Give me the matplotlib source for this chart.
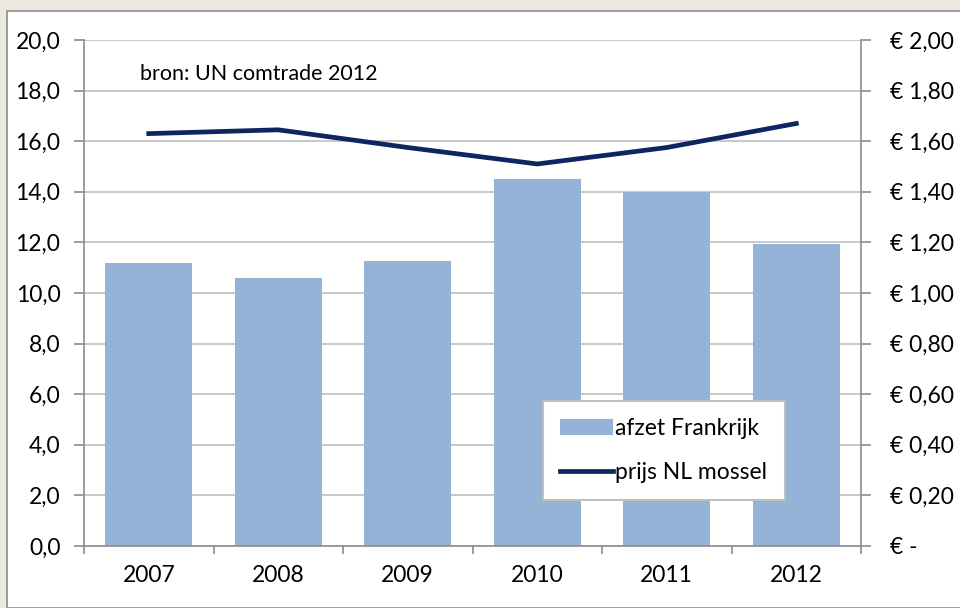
import matplotlib
matplotlib.use('Agg')
import matplotlib.pyplot as plt
from matplotlib.patches import Rectangle
import numpy as np

plt.rcParams['font.family'] = ['Lato', 'DejaVu Sans']

jaren = ['2007', '2008', '2009', '2010', '2011', '2012']
afzet = [11.2, 10.6, 11.25, 14.5, 14.0, 11.95]
prijs = [1.63, 1.645, 1.575, 1.51, 1.575, 1.67]
links_ticks = [0, 2, 4, 6, 8, 10, 12, 14, 16, 18, 20]
rechts_ticks = [0, 0.2, 0.4, 0.6, 0.8, 1.0, 1.2, 1.4, 1.6, 1.8, 2.0]

fig = plt.figure(figsize=(9.6, 6.08), dpi=100)
fig.patch.set_facecolor('#ECE9E0')
# white chart panel, behind the axes
fig.patches.append(Rectangle((7/960, 0), 1, 1 - 11/608, transform=fig.transFigure,
                             facecolor='white', edgecolor='#8C8C8C', linewidth=1.2,
                             zorder=-5))

ax = fig.add_axes([84/960, 62/608, 777/960, 506/608])
ax.set_facecolor('none')
x = np.arange(len(jaren))
ax.bar(x, afzet, width=0.67, color='#95B3D7', zorder=2, label='afzet Frankrijk')
ax.set_xlim(-0.5, len(jaren) - 0.5)
ax.set_ylim(0, 20)
ax.set_yticks(links_ticks)
ax.set_yticklabels([f'{v:.1f}'.replace('.', ',') for v in links_ticks])
ax.yaxis.grid(True, color='#BFBFBF', linewidth=1.2, zorder=0)
ax.set_axisbelow(True)
ax.set_xticks(x)
ax.set_xticklabels(jaren)
ax.set_xticks(np.arange(-0.5, len(jaren)), minor=True)
ax.tick_params(axis='x', which='major', length=0, pad=14, labelsize=16.5)
ax.tick_params(axis='x', which='minor', length=6, color='#8C8C8C', width=1.2)
ax.tick_params(axis='y', length=7, color='#8C8C8C', width=1.2, labelsize=16.5, pad=10)
for s in ['top', 'right']:
    ax.spines[s].set_visible(False)
for s in ['left', 'bottom']:
    ax.spines[s].set_color('#8C8C8C')
    ax.spines[s].set_linewidth(1.2)

ax2 = ax.twinx()
ax2.plot(x, prijs, color='#0E2560', linewidth=3.4, zorder=3, label='prijs NL mossel')
ax2.set_ylim(0, 2)
ax2.set_yticks(rechts_ticks)
ax2.set_yticklabels(['€ -'] + [f'€ {v:.2f}'.replace('.', ',') for v in rechts_ticks[1:]])
ax2.tick_params(axis='y', length=7, color='#8C8C8C', width=1.2, labelsize=16.5, pad=14)
for s in ['top', 'left', 'bottom']:
    ax2.spines[s].set_visible(False)
ax2.spines['right'].set_color('#8C8C8C')
ax2.spines['right'].set_linewidth(1.2)

ax.text(0.072, 0.933, 'bron: UN comtrade 2012', transform=ax.transAxes,
        fontsize=15.5, va='center', ha='left')

h1, l1 = ax.get_legend_handles_labels()
h2, l2 = ax2.get_legend_handles_labels()
leg = ax2.legend(h1 + h2, l1 + l2, loc='lower left', bbox_to_anchor=(0.591, 0.091),
                 fontsize=16.5, frameon=True, fancybox=False, edgecolor='#BFBFBF',
                 framealpha=1, handlelength=2.3, handletextpad=0.1,
                 labelspacing=1.0, borderpad=0.75, borderaxespad=0)
leg.get_frame().set_linewidth(1.5)

fig.savefig('out.png', dpi=100, facecolor=fig.get_facecolor())
